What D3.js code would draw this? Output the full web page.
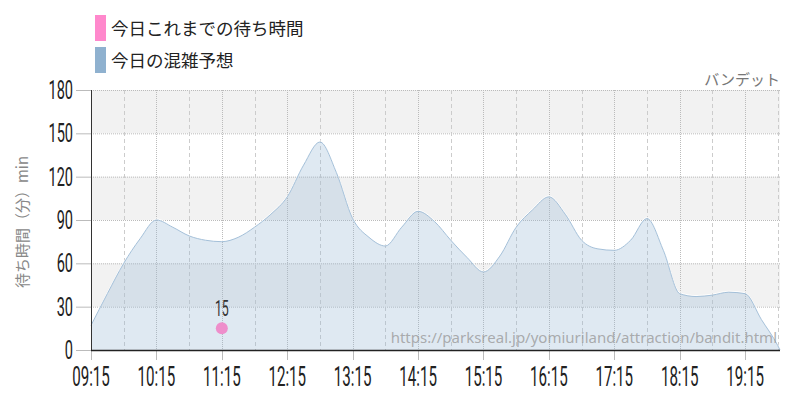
<!DOCTYPE html>
<html><head><meta charset="utf-8">
<script src="https://cdn.jsdelivr.net/npm/d3@7"></script>
<style>
body{margin:0;background:#fff;}
svg{display:block;}
</style></head>
<body><svg id="c" width="800" height="400"></svg>
<script>
const times = ["09:15","09:30","09:45","10:00","10:15","10:30","10:45","11:00","11:15","11:30","11:45","12:00","12:15","12:30","12:45","13:00","13:15","13:30","13:45","14:00","14:15","14:30","14:45","15:00","15:15","15:30","15:45","16:00","16:15","16:30","16:45","17:00","17:15","17:30","17:45","18:00","18:15","18:30","18:45","19:00","19:15","19:30","19:45","19:47"];
const forecast = [17,39,60,77,90,85,79,76,75,78,85,94,106,128,144,123,91,78,72,85,96,89,76,64,54,65,85,97,106,94,76,70,69,76,91,69,39,37,38,40,39,21,3,0];
const actualTimes = ["11:15"];
const actualValues = [15];
const xTickLabels = ["09:15","10:15","11:15","12:15","13:15","14:15","15:15","16:15","17:15","18:15","19:15"];
const halfHourGrid = ["09:45","10:45","11:45","12:45","13:45","14:45","15:45","16:45","17:45","18:45","19:45"];
const yTicks = [0,30,60,90,120,150,180];
const legendLabels = ["今日これまでの待ち時間","今日の混雑予想"];
const legendColors = ["#ff88cc","#8fb1cf"];
const attractionName = "バンデット";
const yTitle = "待ち時間（分）min";
const sourceUrl = "https://parksreal.jp/yomiuriland/attraction/bandit.html";
const xDomainEnd = "19:47";

const parse = d3.timeParse("%H:%M");
const svg = d3.select("#c");
const L = 91, R = 780, T = 90, B = 350;
const x = d3.scaleTime().domain([parse(times[0]), parse(xDomainEnd)]).range([L, R]);
const y = d3.scaleLinear().domain([0, 180]).range([B, T]);

// bands
const bandStarts = [30, 90, 150];
svg.append("g").selectAll("rect").data(bandStarts).join("rect")
  .attr("x", L).attr("width", R - L)
  .attr("y", d => y(d + 30)).attr("height", d => y(d) - y(d + 30))
  .attr("fill", "#f2f2f2");

// horizontal grid
svg.append("g").selectAll("line").data(yTicks.slice(1)).join("line")
  .attr("x1", L).attr("x2", R).attr("y1", d => y(d) + 0.5).attr("y2", d => y(d) + 0.5)
  .attr("stroke", "#bbb").attr("stroke-dasharray", "1,1");

// vertical grid
svg.append("g").selectAll("line").data(xTickLabels.slice(1)).join("line")
  .attr("x1", d => Math.round(x(parse(d))) + 0.5).attr("x2", d => Math.round(x(parse(d))) + 0.5)
  .attr("y1", T).attr("y2", B)
  .attr("stroke", "#bbb").attr("stroke-dasharray", "1,1");
svg.append("g").selectAll("line").data(halfHourGrid).join("line")
  .attr("x1", d => Math.round(x(parse(d))) + 0.5).attr("x2", d => Math.round(x(parse(d))) + 0.5)
  .attr("y1", T).attr("y2", B)
  .attr("stroke", "#ccc").attr("stroke-dasharray", "4,3");

// area
const pts = times.map((t, i) => ({t: parse(t), v: forecast[i]}));
const area = d3.area().x(d => x(d.t)).y0(y(0)).y1(d => y(d.v)).curve(d3.curveMonotoneX);
const line = d3.line().x(d => x(d.t)).y(d => y(d.v)).curve(d3.curveMonotoneX);
svg.append("path").datum(pts).attr("d", area)
  .attr("fill", "rgb(152,184,213)").attr("fill-opacity", 0.31);
svg.append("path").datum(pts).attr("d", line).attr("transform", "translate(0,-1)")
  .attr("fill", "none").attr("stroke", "#fff").attr("stroke-width", 1).attr("stroke-opacity", 0.9);
svg.append("path").datum(pts).attr("d", line)
  .attr("fill", "none").attr("stroke", "#a4c0d9").attr("stroke-width", 1);

// watermark
svg.append("text").attr("x", 777).attr("y", 343).attr("text-anchor", "end")
  .attr("font-family", "'Noto Sans', sans-serif").attr("font-size", 15)
  .attr("fill", "#9a9a9a").attr("fill-opacity", 0.8).text(sourceUrl);

// axes
const numFont = "Roboto, sans-serif";
const sx = 0.56;
const yAxis = svg.append("g");
yAxis.append("line").attr("x1", L + 0.5).attr("x2", L + 0.5).attr("y1", T).attr("y2", B).attr("stroke", "#333");
yAxis.selectAll("line.t").data(yTicks).join("line").attr("class", "t")
  .attr("x1", 76).attr("x2", L).attr("y1", d => y(d) + 0.5).attr("y2", d => y(d) + 0.5)
  .attr("stroke", "#bbb");
yAxis.selectAll("text").data(yTicks).join("text")
  .attr("transform", d => `translate(73,${y(d) + 9}) scale(${sx},1)`)
  .attr("text-anchor", "end").attr("font-family", numFont).attr("font-weight", 400)
  .attr("font-size", 26).attr("fill", "#222").text(d => d);

const xAxis = svg.append("g");
xAxis.selectAll("line.t").data(xTickLabels).join("line").attr("class", "t")
  .attr("x1", d => Math.round(x(parse(d))) + 0.5).attr("x2", d => Math.round(x(parse(d))) + 0.5)
  .attr("y1", B).attr("y2", B + 10).attr("stroke", "#bbb");
xAxis.append("line").attr("x1", L).attr("x2", R).attr("y1", B + 0.5).attr("y2", B + 0.5).attr("stroke", "#222").attr("stroke-width", 1.5);
xAxis.selectAll("text").data(xTickLabels).join("text")
  .attr("transform", d => `translate(${x(parse(d))},386) scale(${sx},1)`)
  .attr("text-anchor", "middle").attr("font-family", numFont).attr("font-weight", 400)
  .attr("font-size", 27).attr("fill", "#222").text(d => d);

// actual points
const act = actualTimes.map((t, i) => ({t: parse(t), v: actualValues[i]}));
svg.append("g").selectAll("circle").data(act).join("circle")
  .attr("cx", d => x(d.t)).attr("cy", d => y(d.v)).attr("r", 6).attr("fill", "#ee8ecb");
svg.append("g").selectAll("text").data(act).join("text")
  .attr("transform", d => `translate(${x(d.t)},${y(d.v) - 12}) scale(${sx},1)`)
  .attr("text-anchor", "middle").attr("font-family", numFont).attr("font-weight", 400)
  .attr("font-size", 22).attr("fill", "#333").text(d => d.v);

// y title
svg.append("text").attr("transform", `translate(28,${(T + B) / 2 + 2}) rotate(-90)`)
  .attr("text-anchor", "middle").attr("font-family", "'Noto Sans CJK JP', sans-serif")
  .attr("font-size", 15).attr("fill", "#888").text(yTitle);

// name
svg.append("text").attr("x", 780).attr("y", 85).attr("text-anchor", "end")
  .attr("font-family", "'Noto Sans CJK JP', sans-serif").attr("font-size", 15)
  .attr("fill", "#777").text(attractionName);

// legend
const lg = svg.append("g").selectAll("g").data(legendLabels).join("g")
  .attr("transform", (d, i) => `translate(95,${15 + i * 32})`);
lg.append("rect").attr("width", 11).attr("height", 26).attr("fill", (d, i) => legendColors[i]);
lg.append("text").attr("x", 16).attr("y", 20).attr("font-family", "'Noto Sans CJK JP', sans-serif")
  .attr("font-size", 17.5).attr("fill", "#222").text(d => d);
</script></body></html>
